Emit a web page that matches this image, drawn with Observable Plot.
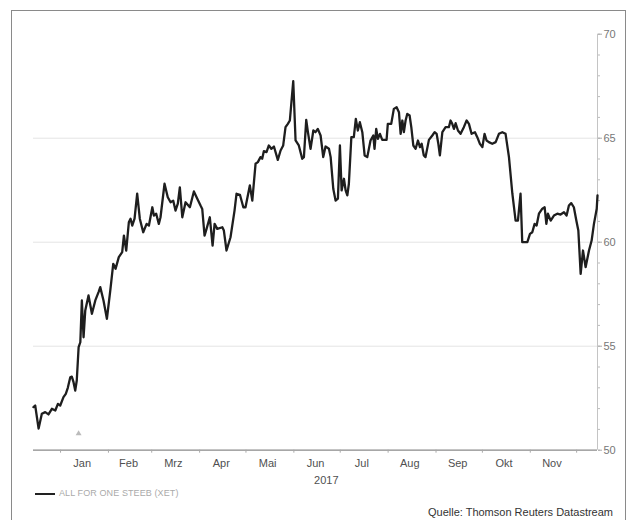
<!DOCTYPE html>
<html>
<head>
<meta charset="utf-8">
<script src="https://cdn.jsdelivr.net/npm/d3@7"></script>
<script src="https://cdn.jsdelivr.net/npm/@observablehq/plot@0.6"></script>
<style>
  html, body { margin: 0; padding: 0; background: #fff; }
  #wrap { position: relative; width: 629px; height: 520px; overflow: hidden; background: #fff; font-family: "Liberation Sans", Arial, sans-serif; }
  #border { position: absolute; left: 11px; top: 10px; width: 615px; height: 540px; border: 1px solid #8a8a8a; box-sizing: border-box; }
  #chart { position: absolute; left: 0; top: 0; }
  #legline { position: absolute; left: 35px; top: 493px; width: 20px; height: 2px; background: #222; }
  #legtext { position: absolute; left: 59px; top: 488px; font-size: 9px; color: #aaa; letter-spacing: 0.1px; }
  #source { position: absolute; right: 16px; top: 506px; font-size: 11px; color: #333; }
</style>
</head>
<body>
<div id="wrap">
  <div id="border"></div>
  <div id="chart"></div>
  <div id="legline"></div>
  <div id="legtext">ALL FOR ONE STEEB (XET)</div>
  <div id="source">Quelle: Thomson Reuters Datastream</div>
</div>
<script>
// Day offsets from 1 Jan 2017
const days = [
  -17.5,-16.4,-14.2,-12.1,-9.9,-7.8,-5.6,-3.4,-1.7,-0.2,
  1.9,3.4,4.7,6.3,7.3,8.4,9.5,10.5,11.7,12.8,
  13.8,14.9,16.0,18.1,20.3,22.5,24.6,25.7,27.8,30.0,
  32.2,34.1,35.6,37.7,39.9,41.0,42.5,44.2,45.3,46.4,
  47.9,49.6,51.3,53.5,55.7,57.2,59.4,60.4,61.9,63.6,
  64.7,67.3,69.4,71.2,72.9,74.4,75.9,77.2,78.8,80.9,
  83.7,86.3,88.5,90.6,91.7,93.2,94.5,96.6,98.4,99.7,
  101.4,104.7,105.7,107.4,110.0,112.6,113.9,116.1,118.3,119.7,
  122.5,124.1,126.2,127.7,129.4,130.5,131.6,133.3,134.8,136.4,
  138.1,140.6,142.4,144.1,145.6,147.1,148.4,150.6,152.1,154.2,
  156.4,157.5,159.0,160.1,161.8,163.6,165.0,166.5,168.3,170.0,
  171.5,173.7,174.8,176.5,178.0,179.5,180.8,181.9,183.4,184.5,
  185.6,186.6,188.2,189.8,191.1,192.4,193.7,195.3,196.8,198.5,
  200.6,202.4,203.2,204.3,205.4,206.7,208.2,211.0,211.8,214.0,
  215.7,217.5,219.0,220.1,221.2,222.2,223.3,224.4,225.9,227.0,
  228.3,229.8,231.3,232.6,233.7,235.1,236.2,238.4,240.6,242.1,
  243.4,244.5,245.5,247.1,249.2,251.3,252.4,253.5,254.6,255.7,
  257.2,258.9,261.0,262.8,264.3,266.0,268.2,269.7,271.4,273.0,
  274.4,275.7,277.2,279.4,281.6,283.7,285.9,288.0,290.2,292.4,
  294.5,296.0,297.7,298.8,302.1,303.8,305.3,306.8,308.1,309.6,
  311.8,313.3,314.4,315.4,317.2,319.3,321.5,323.6,325.8,327.5,
  329.0,330.5,332.2,333.8,335.1,336.6,338.1,339.8,342.0,343.7,
  345.2,347.0,347.5
];
// Share price in EUR
const prices = [
  52.07,52.15,51.04,51.75,51.83,51.72,51.99,51.91,52.23,52.15,
  52.55,52.71,53.0,53.51,53.54,53.27,52.87,53.35,54.95,55.19,
  57.2,55.43,56.72,57.44,56.56,57.2,57.6,57.84,57.2,56.32,
  57.68,58.96,58.72,59.28,59.52,60.32,59.6,60.96,61.13,60.8,
  61.13,62.33,61.13,60.48,60.88,60.8,61.68,61.28,61.37,60.88,
  61.2,62.81,62.16,61.92,62.0,61.52,61.85,62.64,61.2,61.92,
  61.68,62.44,62.09,61.76,61.6,60.32,60.64,61.2,59.84,60.88,
  60.64,60.72,60.56,59.6,60.24,61.52,62.33,62.28,61.68,61.68,
  62.73,62.0,63.77,63.85,64.09,64.01,64.38,64.33,64.65,64.49,
  64.6,63.96,64.41,64.65,65.53,65.69,65.85,67.74,64.89,64.65,
  64.01,64.09,65.88,65.29,64.49,65.37,65.29,65.45,65.13,64.09,
  64.6,64.49,64.09,62.57,62.0,62.09,64.65,62.49,63.05,62.49,
  62.25,62.81,65.05,65.05,65.93,65.37,65.77,65.29,64.17,64.09,
  64.89,65.13,64.49,65.45,64.97,65.21,64.92,64.92,65.69,65.69,
  66.41,66.49,66.25,65.21,65.85,65.29,65.85,66.17,66.09,65.53,
  64.65,64.49,64.89,64.57,64.73,64.17,64.09,64.92,65.13,65.29,
  65.21,64.73,64.17,65.29,65.53,65.53,65.85,65.69,65.45,65.72,
  65.37,65.21,65.53,65.85,65.69,65.21,65.29,65.05,64.73,64.57,
  65.21,64.89,64.81,64.73,64.81,65.21,65.29,65.21,64.09,62.33,
  61.04,61.04,62.33,60.0,60.0,60.4,60.48,60.88,60.8,61.37,
  61.61,61.68,60.88,61.37,61.04,61.28,61.37,61.33,61.44,61.28,
  61.76,61.88,61.68,61.04,60.56,58.48,59.6,58.8,59.6,60.08,
  60.88,61.61,62.25
];
const monthLabels = ["Jan","Feb","Mrz","Apr","Mai","Jun","Jul","Aug","Sep","Okt","Nov"];
const monthLabelDates = ["2017-01-15","2017-02-14","2017-03-15","2017-04-15","2017-05-15","2017-06-15","2017-07-15","2017-08-15","2017-09-15","2017-10-15","2017-11-15"];
const monthStarts = ["2017-01-01","2017-02-01","2017-03-01","2017-04-01","2017-05-01","2017-06-01","2017-07-01","2017-08-01","2017-09-01","2017-10-01","2017-11-01","2017-12-01"];
const yearLabel = ["2017"];
const yearLabelDate = ["2017-06-22"];
const yMajor = [50,55,60,65,70];
const yMinor = [50,51,52,53,54,55,56,57,58,59,60,61,62,63,64,65,66,67,68,69,70];
const yGrid = [55,60,65];
const markerDay = [11.7];
const markerPrice = [50.8];
const xStartDay = -17.5, xEndDay = 347.5;

const t0 = Date.UTC(2017,0,1);
const toDate = d => new Date(t0 + d*864e5);
const data = days.map((d,i) => ({date: toDate(d), price: prices[i]}));
const pd = s => new Date(s + "T00:00:00Z");

const chart = Plot.plot({
  width: 629,
  height: 490,
  marginLeft: 33,
  marginRight: 32,
  marginTop: 33.7,
  marginBottom: 40.3,
  style: {fontFamily: "'Liberation Sans', Arial, sans-serif", background: "transparent"},
  x: {type: "utc", domain: [toDate(xStartDay), toDate(xEndDay)]},
  y: {domain: [50,70]},
  marks: [
    Plot.ruleY(yGrid, {stroke: "#e4e4e4", strokeWidth: 1}),
    Plot.ruleX([toDate(xEndDay)], {stroke: "#c4c4c4", strokeWidth: 1}),
    Plot.ruleY([50], {stroke: "#8a8a8a", strokeWidth: 1.2}),
    Plot.axisY({anchor: "right", ticks: yMinor, tickSize: 2, text: null, stroke: "#bbb", label: null}),
    Plot.axisY({anchor: "right", ticks: yMajor, tickSize: 4, tickPadding: 2, fontSize: 11, color: "#777", stroke: "#aaa", label: null}),
    Plot.axisX({ticks: monthStarts.map(pd), tickSize: 3, text: null, stroke: "#aaa", label: null}),
    Plot.axisX({ticks: monthLabelDates.map(pd), tickSize: 0, tickPadding: 9, fontSize: 11, color: "#505050", tickFormat: (d,i) => monthLabels[i], label: null}),
    Plot.text(yearLabel, {x: yearLabelDate.map(pd), y: [50], dy: 30, fontSize: 11, fill: "#505050", text: d => d}),
    Plot.dot(markerDay, {x: markerDay.map(toDate), y: markerPrice, symbol: "triangle", r: 2.2, fill: "#bbb", stroke: "none"}),
    Plot.line(data, {x: "date", y: "price", stroke: "#1e1e1e", strokeWidth: 2.3, strokeLinejoin: "round"})
  ]
});
document.getElementById("chart").appendChild(chart);
</script>
</body>
</html>
